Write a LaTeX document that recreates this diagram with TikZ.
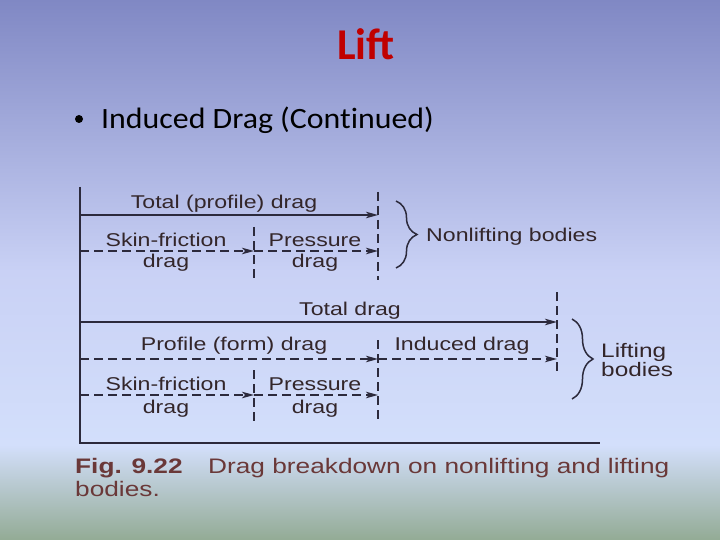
\documentclass[tikz,border=0pt]{standalone}
\usepackage{fontspec}
\usepackage{xcolor}
\usetikzlibrary{arrows.meta,decorations.pathreplacing}

\newfontfamily\slidefont{Carlito}
\newfontfamily\pointfont[FakeStretch=1.08, Ligatures=NoCommon]{Carlito}
\newfontfamily\figfont[FakeStretch=1.25]{Liberation Sans}

\definecolor{bgtop}{HTML}{8088C4}
\definecolor{bgmid}{HTML}{C9D1F5}
\definecolor{bglow}{HTML}{D3DFFB}
\definecolor{bgfoot}{HTML}{93AB95}
\definecolor{titlered}{HTML}{C00000}
\definecolor{figink}{HTML}{2C2A3C}
\definecolor{figtext}{HTML}{33262A}
\definecolor{captext}{HTML}{6A3838}

\tikzset{
  figline/.style={draw=figink, line width=1.5pt},
  force/.style={figline, -{Stealth[length=12pt,width=6.5pt,inset=3pt]}},
  part/.style={force, dash pattern=on 9pt off 5pt},
  tick/.style={figline, dash pattern=on 9pt off 5pt},
  grp/.style={figline, decorate, decoration={brace, amplitude=21pt}},
  lbl/.style={anchor=base, inner sep=0pt, text=figtext, font=\figfont\fontsize{18.5}{20}\selectfont},
  capline/.style={anchor=base west, inner sep=0pt, text=captext, font=\figfont\fontsize{21}{24}\selectfont},
}

\begin{document}
\begin{tikzpicture}[x=1pt, y=-1pt]
  \useasboundingbox (0,0) rectangle (720,540);
  \shade[top color=bgtop, bottom color=bgmid] (0,0) rectangle (720,271);
  \shade[top color=bgmid, bottom color=bglow] (0,270) rectangle (720,446);
  \shade[top color=bglow, bottom color=bgfoot] (0,445) rectangle (720,540);

  \node[anchor=base, inner sep=0pt, text=titlered, font=\slidefont\bfseries\fontsize{44}{48}\selectfont] (title) at (366,60) {Lift};
  \fill[black] (79,119) circle (4pt);
  \node[anchor=base west, inner sep=0pt, font=\pointfont\fontsize{29.5}{32}\selectfont] (point) at (101,129) {Induced Drag (Continued)};

  % frame
  \coordinate (frametop) at (80,187);
  \coordinate (framecorner) at (80,443);
  \coordinate (frameend) at (600,443);
  \draw[figline] (frametop) -- (framecorner) -- (frameend);

  % nonlifting bodies
  \coordinate (nA) at (80,215);
  \coordinate (nB) at (378,215);
  \coordinate (nC) at (80,251);
  \coordinate (nD) at (254,251);
  \coordinate (nE) at (378,251);
  \coordinate (ntickA) at (378,192);
  \coordinate (ntickB) at (378,280);
  \coordinate (ntickC) at (254,227);
  \coordinate (ntickD) at (254,280);
  \draw[force] (nA) -- (nB);
  \draw[part] (nC) -- (nD);
  \draw[part] (nD) -- (nE);
  \draw[tick] (ntickA) -- (ntickB);
  \draw[tick] (ntickC) -- (ntickD);
  \node[lbl] (ntotal) at (224,209) {Total (profile) drag};
  \node[lbl] (nskin) at (166,246) {Skin-friction};
  \node[lbl] (nskind) at (166,267) {drag};
  \node[lbl] (npres) at (315,246) {Pressure};
  \node[lbl] (npresd) at (315,267) {drag};
  \coordinate (nbraceA) at (396,201);
  \coordinate (nbraceB) at (396,268);
  \draw[grp] (nbraceA) -- (nbraceB);
  \node[lbl, anchor=base west] (nonlift) at (426,241) {Nonlifting bodies};

  % lifting bodies
  \coordinate (lA) at (80,322);
  \coordinate (lB) at (557,322);
  \coordinate (lC) at (80,359);
  \coordinate (lD) at (378,359);
  \coordinate (lE) at (557,359);
  \coordinate (lF) at (80,395);
  \coordinate (lG) at (254,395);
  \coordinate (lH) at (378,395);
  \coordinate (ltickA) at (557,292);
  \coordinate (ltickB) at (557,372);
  \coordinate (ltickC) at (378,340);
  \coordinate (ltickD) at (378,422);
  \coordinate (ltickE) at (254,370);
  \coordinate (ltickF) at (254,422);
  \draw[force] (lA) -- (lB);
  \draw[part] (lC) -- (lD);
  \draw[part] (lD) -- (lE);
  \draw[part] (lF) -- (lG);
  \draw[part] (lG) -- (lH);
  \draw[tick] (ltickA) -- (ltickB);
  \draw[tick] (ltickC) -- (ltickD);
  \draw[tick] (ltickE) -- (ltickF);
  \node[lbl] (ltotal) at (350,315) {Total drag};
  \node[lbl] (lprofile) at (234,350) {Profile (form) drag};
  \node[lbl] (linduced) at (462,350) {Induced drag};
  \node[lbl] (lskin) at (166,390) {Skin-friction};
  \node[lbl] (lskind) at (166,413) {drag};
  \node[lbl] (lpres) at (315,390) {Pressure};
  \node[lbl] (lpresd) at (315,413) {drag};
  \coordinate (lbraceA) at (572,319);
  \coordinate (lbraceB) at (572,399);
  \draw[grp] (lbraceA) -- (lbraceB);
  \node[lbl, anchor=base west, font=\figfont\fontsize{19.5}{20}\selectfont] (lift) at (601,357) {Lifting};
  \node[lbl, anchor=base west, font=\figfont\fontsize{19.5}{20}\selectfont] (liftb) at (601,376) {bodies};

  % caption
  \node[capline, font=\figfont\bfseries\fontsize{21}{24}\selectfont] (fignum) at (75,473) {Fig. 9.22};
  \node[capline] (figtxt) at (208,473) {Drag breakdown on nonlifting and lifting};
  \node[capline] (figtxtb) at (75,496) {bodies.};
\end{tikzpicture}
\end{document}
